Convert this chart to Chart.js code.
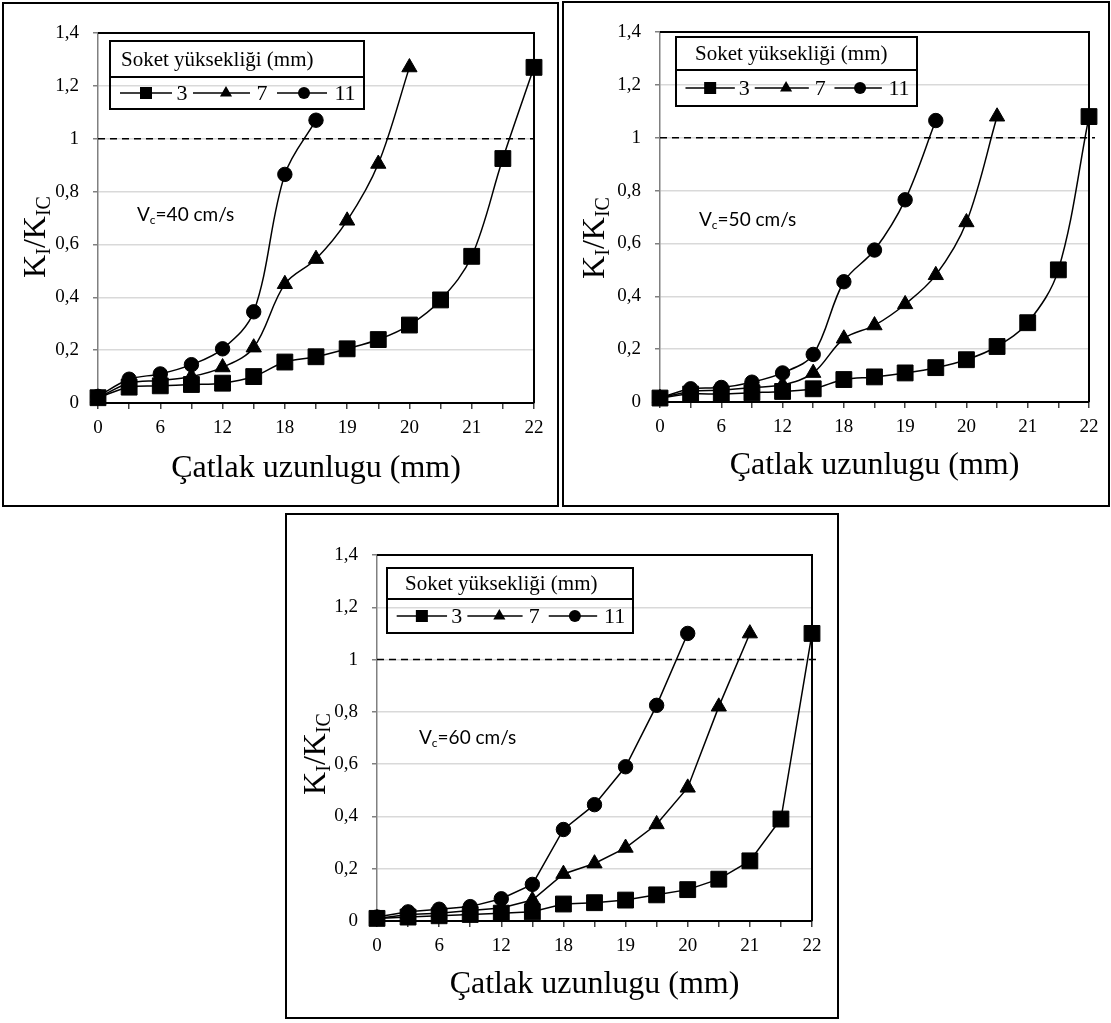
<!DOCTYPE html>
<html>
<head>
<meta charset="utf-8">
<script src="https://cdn.jsdelivr.net/npm/chart.js@4.4.1/dist/chart.umd.min.js"></script>
<style>
body { margin: 0; background: #fff; }
.frame { position: absolute; box-sizing: border-box; border: 2px solid #000; }
canvas { position: absolute; }
</style>
</head>
<body>
<div id="f1" class="frame"></div>
<div id="f2" class="frame"></div>
<div id="f3" class="frame"></div>
<canvas id="c1"></canvas>
<canvas id="c2"></canvas>
<canvas id="c3"></canvas>
<script>
////////////data////////////
// x tick labels (every second category has no label)
var xLabels = ['0', '', '6', '', '12', '', '18', '', '19', '', '20', '', '21', '', '22'];
var yMax = 1.4, yStep = 0.2;
var critLevel = 1; // K_I/K_IC = 1 dashed line
var seriesNames = ['3', '7', '11']; // Soket yüksekliği (mm)
var legendTitle = 'Soket yüksekliği (mm)';
var xTitle = 'Çatlak uzunlugu (mm)';

// Vc = 40 cm/s
var s3_40 = [0.02, 0.06, 0.065, 0.07, 0.075, 0.10, 0.155, 0.175, 0.205, 0.24, 0.295, 0.39, 0.555, 0.925, 1.27];
var s7_40 = [0.02, 0.075, 0.085, 0.10, 0.135, 0.21, 0.45, 0.545, 0.69, 0.905, 1.27];
var s11_40 = [0.025, 0.09, 0.11, 0.145, 0.205, 0.345, 0.865, 1.07];

// Vc = 50 cm/s
var s3_50 = [0.015, 0.03, 0.03, 0.035, 0.04, 0.05, 0.085, 0.095, 0.11, 0.13, 0.16, 0.21, 0.30, 0.50, 1.08];
var s7_50 = [0.015, 0.04, 0.045, 0.055, 0.065, 0.11, 0.24, 0.29, 0.37, 0.48, 0.68, 1.08];
var s11_50 = [0.015, 0.05, 0.055, 0.075, 0.11, 0.18, 0.455, 0.575, 0.765, 1.065];

// Vc = 60 cm/s
var s3_60 = [0.01, 0.015, 0.02, 0.025, 0.03, 0.035, 0.065, 0.07, 0.08, 0.10, 0.12, 0.16, 0.23, 0.39, 1.10];
var s7_60 = [0.01, 0.025, 0.03, 0.04, 0.05, 0.08, 0.18, 0.22, 0.28, 0.37, 0.51, 0.82, 1.10];
var s11_60 = [0.015, 0.035, 0.045, 0.055, 0.085, 0.14, 0.35, 0.445, 0.59, 0.825, 1.10];

////////////styles////////////
var markerStyles = ['rect', 'triangle', 'circle'];
var markerRadius = [11.2, 8.8, 7.2];
var legendMarkerRadius = [8.5, 7, 6];
var serif = '"Liberation Serif", "Times New Roman", serif';

function fmt(v) { return String(Math.round(v * 10) / 10).replace('.', ','); }

function mark(ctx, style, x, y, r) {
	ctx.beginPath();
	if (style === 'rect') {
		var s = r * Math.SQRT1_2;
		ctx.rect(x - s, y - s, 2 * s, 2 * s);
	} else if (style === 'triangle') {
		ctx.moveTo(x, y - r);
		ctx.lineTo(x + r * 0.866, y + r / 2);
		ctx.lineTo(x - r * 0.866, y + r / 2);
		ctx.closePath();
	} else {
		ctx.arc(x, y, r, 0, Math.PI * 2);
	}
	ctx.fill();
}

////////////plugin: frame lines, dashed line, legend box, titles////////////
var extras = {
	id: 'extras',
	beforeDatasetsDraw: function(chart, args, o) {
		var a = chart.chartArea, ctx = chart.ctx;
		var yc = chart.scales.y.getPixelForValue(critLevel);
		ctx.save();
		ctx.strokeStyle = '#000';
		ctx.lineWidth = 2;
		ctx.beginPath();
		ctx.moveTo(a.left, a.top);
		ctx.lineTo(a.right, a.top);
		ctx.lineTo(a.right, a.bottom);
		ctx.stroke();
		// dashed critical line
		ctx.lineWidth = 1.5;
		ctx.setLineDash([7, 5]);
		ctx.beginPath();
		ctx.moveTo(a.left, yc);
		ctx.lineTo(a.right + o.dashOver, yc);
		ctx.stroke();
		ctx.restore();
	},
	afterDraw: function(chart, args, o) {
		var ctx = chart.ctx, ox = o.box.x, oy = o.box.y;
		ctx.save();
		ctx.fillStyle = '#000';
		ctx.strokeStyle = '#000';

		// legend box
		var L = o.legend;
		var lx = L.x - ox, ly = L.y - oy, ld = L.div - oy;
		ctx.lineWidth = 2;
		ctx.strokeRect(lx, ly, L.w, L.h);
		ctx.beginPath();
		ctx.moveTo(lx, ld);
		ctx.lineTo(lx + L.w, ld);
		ctx.stroke();
		ctx.font = '21px ' + serif;
		ctx.textBaseline = 'middle';
		ctx.textAlign = 'left';
		ctx.fillText(legendTitle, lx + L.titleDx, (ly + ld) / 2 + 1);
		var ry = (ld + ly + L.h) / 2;
		var k = L.w / 254;
		var items = [[10, 62, 36, 72], [83, 140, 116, 152], [167, 217, 194, 235]];
		ctx.font = '22px ' + serif;
		ctx.textAlign = 'center';
		items.forEach(function(it, i) {
			ctx.lineWidth = 1.5;
			ctx.beginPath();
			ctx.moveTo(lx + it[0] * k, ry);
			ctx.lineTo(lx + it[1] * k, ry);
			ctx.stroke();
			mark(ctx, markerStyles[i], lx + it[2] * k, ry, legendMarkerRadius[i]);
			ctx.fillText(seriesNames[i], lx + it[3] * k, ry + 1);
		});

		// V_c annotation
		var V = o.vc;
		var vx = V.x - ox, vy = V.y - oy + 6;
		ctx.textAlign = 'left';
		ctx.textBaseline = 'alphabetic';
		ctx.font = '19px Lato';
		ctx.fillText('V', vx, vy);
		var w = ctx.measureText('V').width;
		ctx.font = '12px Lato';
		ctx.fillText('c', vx + w, vy + 3);
		w += ctx.measureText('c').width;
		ctx.font = '19px Lato';
		ctx.fillText('=' + o.speed, vx + w, vy);

		// y title K_I/K_IC
		var T = o.ytitle;
		var big = '32px ' + serif, small = '20px ' + serif;
		var parts = [['K', big, 0], ['I', small, 5], ['/', big, 0], ['K', big, 0], ['IC', small, 5]];
		var tot = 0;
		parts.forEach(function(p) { ctx.font = p[1]; p.push(ctx.measureText(p[0]).width); tot += p[3]; });
		ctx.translate(T.bx - ox, T.cy - oy);
		ctx.rotate(-Math.PI / 2);
		var px = -tot / 2;
		parts.forEach(function(p) {
			ctx.font = p[1];
			ctx.fillText(p[0], px, p[2]);
			px += p[3];
		});
		ctx.restore();
	}
};

////////////create charts////////////
function build(n, g, series, tension, speed) {
	var fr = document.getElementById('f' + n);
	fr.style.left = g.box.x + 'px';
	fr.style.top = g.box.y + 'px';
	fr.style.width = g.box.w + 'px';
	fr.style.height = g.box.h + 'px';
	var cv = document.getElementById('c' + n);
	cv.width = g.box.w;
	cv.height = g.box.h;
	cv.style.left = g.box.x + 'px';
	cv.style.top = g.box.y + 'px';
	cv.style.width = g.box.w + 'px';
	cv.style.height = g.box.h + 'px';

	var datasets = [];
	series.forEach(function(d, i) {
		datasets.push({
			label: seriesNames[i],
			data: d,
			borderColor: '#000',
			backgroundColor: '#000',
			borderWidth: 1.5,
			pointStyle: markerStyles[i],
			pointRadius: markerRadius[i],
			pointBackgroundColor: '#000',
			pointBorderColor: '#000',
			pointBorderWidth: 1,
			tension: tension,
			clip: false,
			fill: false
		});
	});

	return new Chart(cv, {
		type: 'line',
		data: { labels: xLabels, datasets: datasets },
		options: {
			responsive: false,
			animation: false,
			devicePixelRatio: 1,
			layout: { padding: { left: 0, top: g.area.t - g.box.y, right: g.box.x + g.box.w - g.area.r, bottom: 0 } },
			plugins: {
				legend: { display: false },
				tooltip: { enabled: false },
				extras: { box: g.box, legend: g.legend, vc: g.vc, ytitle: g.ytitle, speed: speed, dashOver: g.dashOver }
			},
			scales: {
				x: {
					type: 'category',
					offset: false,
					afterFit: function(s) { s.height = g.box.y + g.box.h - g.area.b; },
					grid: { drawOnChartArea: false, drawTicks: true, tickLength: 6, color: '#404040', lineWidth: 1.5 },
					border: { color: '#000', width: 2 },
					ticks: { autoSkip: false, maxRotation: 0, padding: g.xLabelY - g.area.b - 6 - 11.4, color: '#000', font: { family: serif, size: 19 } },
					title: { display: true, text: xTitle, color: '#000', font: { family: serif, size: 32 }, padding: { top: 0, bottom: g.box.y + g.box.h - g.xTitleY - 19.2 } }
				},
				y: {
					min: 0,
					max: yMax,
					afterFit: function(s) { s.width = g.area.l - g.box.x; },
					grid: { color: '#d9d9d9', lineWidth: 1.5, tickColor: '#808080', tickLength: 5 },
					border: { color: '#808080', width: 1.5 },
					ticks: { stepSize: yStep, padding: 14, color: '#000', font: { family: serif, size: 19 }, callback: fmt }
				}
			}
		},
		plugins: [extras]
	});
}

var g1 = { box: { x: 2, y: 2, w: 557, h: 505 }, area: { l: 98, t: 33, r: 534, b: 403 }, xLabelY: 428, xTitleY: 469, dashOver: 0,
	legend: { x: 110, y: 41, w: 254, h: 68, div: 77, titleDx: 11 }, vc: { x: 137, y: 215 }, ytitle: { bx: 45, cy: 237 } };
var g2 = { box: { x: 562, y: 1, w: 548, h: 506 }, area: { l: 660, t: 32, r: 1089, b: 402 }, xLabelY: 427, xTitleY: 466, dashOver: 6,
	legend: { x: 676, y: 37, w: 241, h: 69, div: 70, titleDx: 19 }, vc: { x: 699, y: 220 }, ytitle: { bx: 604, cy: 238 } };
var g3 = { box: { x: 285, y: 513, w: 554, h: 506 }, area: { l: 377, t: 555, r: 812, b: 921 }, xLabelY: 946, xTitleY: 985, dashOver: 4,
	legend: { x: 387, y: 568, w: 246, h: 65, div: 599, titleDx: 18 }, vc: { x: 419, y: 738 }, ytitle: { bx: 325, cy: 754 } };

build(1, g1, [s3_40, s7_40, s11_40], 0.35, '40 cm/s');
build(2, g2, [s3_50, s7_50, s11_50], 0.35, '50 cm/s');
build(3, g3, [s3_60, s7_60, s11_60], 0, '60 cm/s');
</script>
</body>
</html>
